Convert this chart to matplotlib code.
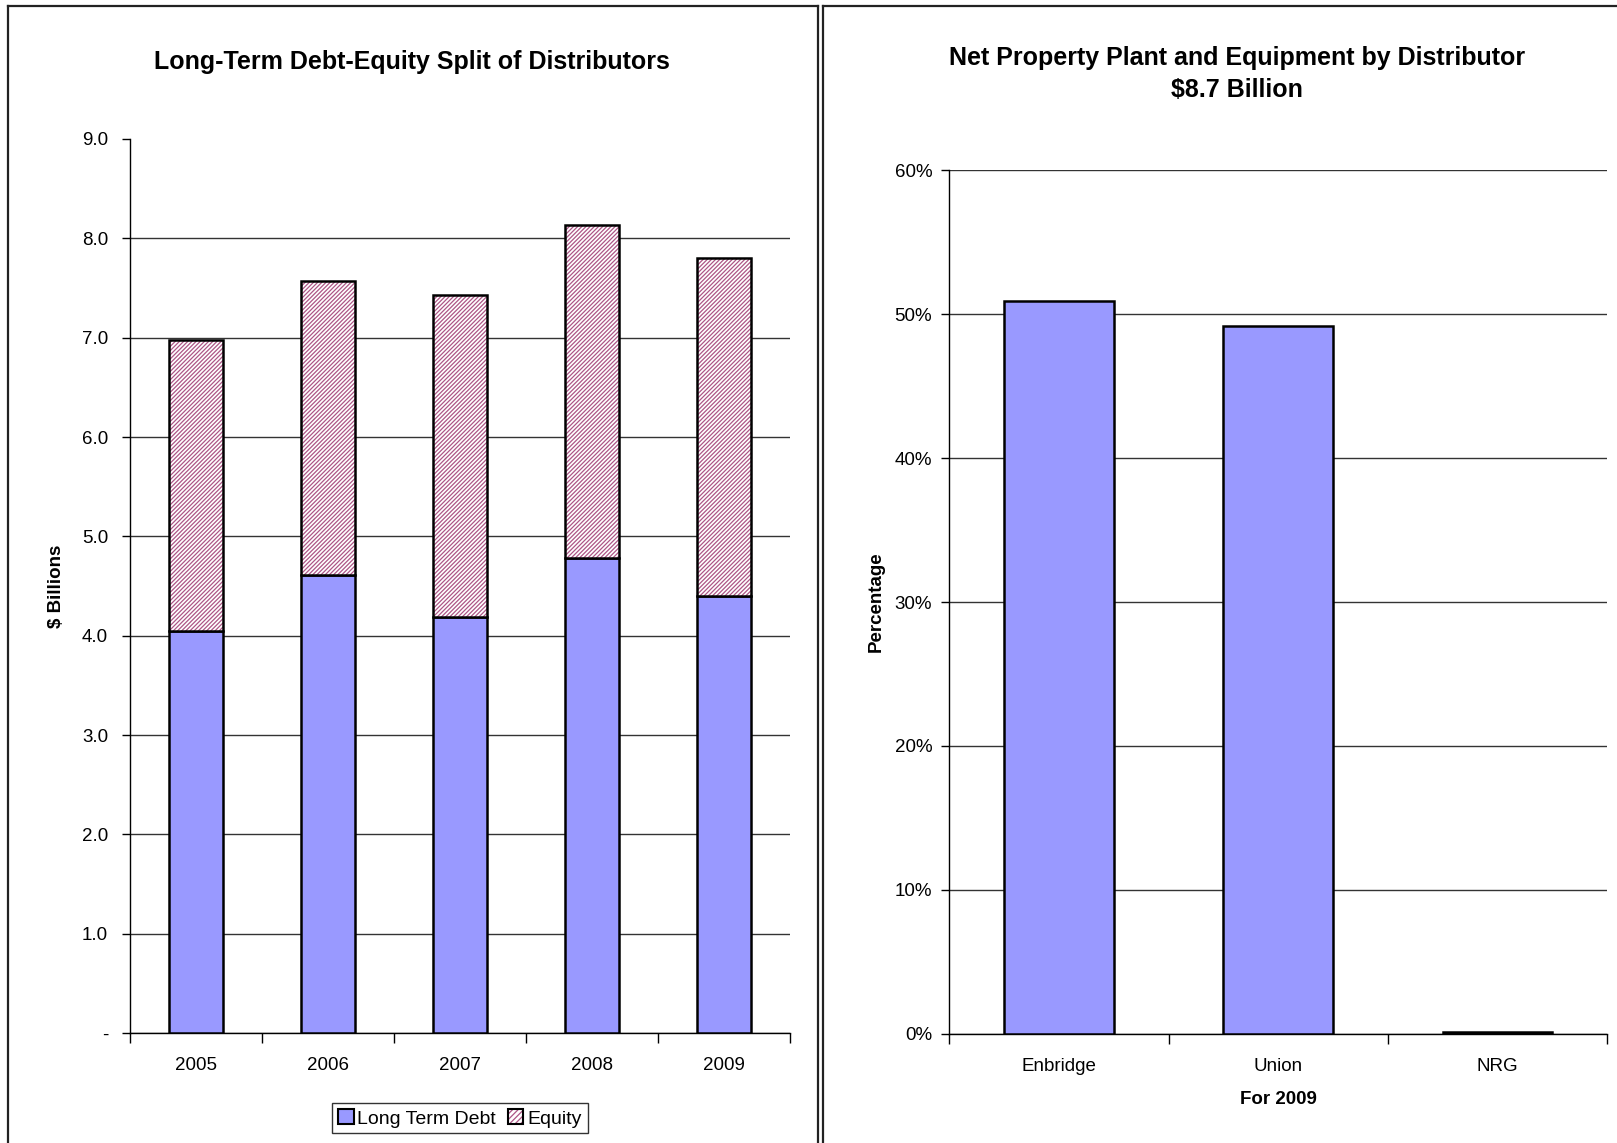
import matplotlib
matplotlib.use('Agg')
import matplotlib.pyplot as plt
import matplotlib.patches as mpatches
from matplotlib.lines import Line2D
import numpy as np

plt.rcParams['font.family'] = ['Liberation Sans', 'DejaVu Sans']
plt.rcParams['hatch.linewidth'] = 0.9

# left chart data ($ billions)
years = ['2005', '2006', '2007', '2008', '2009']
debt = [4.05, 4.61, 4.19, 4.78, 4.40]
equity = [2.93, 2.96, 3.24, 3.35, 3.40]
debt_ticks = [0, 1, 2, 3, 4, 5, 6, 7, 8, 9]

# right chart data (share of net PP&E, 2009)
distributors = ['Enbridge', 'Union', 'NRG']
share = [50.9, 49.2, 0.15]
pct_ticks = [0, 10, 20, 30, 40, 50, 60]

blue = '#9999FF'
hatch_col = '#AD5586'

fig = plt.figure(figsize=(16.17, 11.43), dpi=100)

# panel borders
for xs, ys in [([0.005, 0.005], [0, 0.995]), ([0.005, 0.506], [0.995, 0.995]),
               ([0.506, 0.506], [0, 0.995]), ([0.509, 0.509], [0, 0.995]),
               ([0.509, 1.0], [0.995, 0.995])]:
    fig.add_artist(Line2D(xs, ys, color='#222222', lw=1.6, transform=fig.transFigure))


def style_axes(ax, n, ypad):
    for s in ['top', 'right']:
        ax.spines[s].set_visible(False)
    ax.spines['left'].set_linewidth(1.0)
    ax.spines['bottom'].set_linewidth(1.0)
    ax.set_xlim(-0.5, n - 0.5)
    ax.set_xticks(range(n))
    ax.set_xticks(np.arange(-0.5, n), minor=True)
    ax.tick_params(axis='x', which='major', length=0, pad=17, labelsize=13.5)
    ax.tick_params(axis='x', which='minor', length=7, direction='out', width=1)
    ax.tick_params(axis='y', length=6, direction='out', width=1, labelsize=13.5, pad=ypad)
    ax.yaxis.grid(True, color='#333333', lw=1.0)
    ax.set_axisbelow(True)


# ---- left: debt/equity split
ax1 = fig.add_axes([0.0804, 0.0962, 0.408, 0.7822])
x = np.arange(len(years))
ax1.bar(x, debt, width=0.41, color=blue, edgecolor='black', lw=1.8, zorder=3)
ax1.bar(x, equity, bottom=debt, width=0.41, color='white', edgecolor=hatch_col,
        hatch='////////', lw=0, zorder=3)
ax1.bar(x, equity, bottom=debt, width=0.41, fill=False, edgecolor='black', lw=1.8, zorder=4)
style_axes(ax1, len(years), 9.8)
ax1.set_ylim(0, 9)
ax1.set_yticks(debt_ticks)
ax1.set_yticklabels(['-'] + ['%.1f' % t for t in debt_ticks[1:]])
ax1.yaxis.get_gridlines()[-1].set_visible(False)
ax1.set_xticklabels(years)
ax1.set_ylabel(r'\$ Billions', fontsize=13.5, fontweight='bold')
ax1.yaxis.set_label_coords(-0.099, 0.5)

# legend: hatch swatch with a black outline on top
h_debt = mpatches.Patch(facecolor=blue, edgecolor='black', lw=1.5)
h_eq_fill = mpatches.Patch(facecolor='white', edgecolor=hatch_col, hatch='//////', lw=0)
h_eq_box = mpatches.Patch(fill=False, edgecolor='black', lw=1.5)
leg = ax1.legend([h_debt, (h_eq_fill, h_eq_box)], ['Long Term Debt', 'Equity'], ncol=2,
                 loc='center', bbox_to_anchor=(0.5, -0.0955), fontsize=14,
                 frameon=True, fancybox=False, edgecolor='black',
                 handlelength=0.8, handleheight=0.8, handletextpad=0.2,
                 columnspacing=0.6, borderpad=0.3)
leg.get_frame().set_linewidth(1.0)

# ---- right: net PP&E by distributor
ax2 = fig.add_axes([0.587, 0.0954, 0.407, 0.7558])
x2 = np.arange(len(distributors))
ax2.bar(x2, share, width=0.5, color=blue, edgecolor='black', lw=1.8, zorder=3)
style_axes(ax2, len(distributors), 6.2)
ax2.set_ylim(0, 60)
ax2.set_yticks(pct_ticks)
ax2.set_yticklabels(['%d%%' % t for t in pct_ticks])
ax2.set_xticklabels(distributors)
ax2.set_ylabel('Percentage', fontsize=13.5, fontweight='bold')
ax2.yaxis.set_label_coords(-0.098, 0.5)
ax2.set_xlabel('For 2009', fontsize=13.5, fontweight='bold', labelpad=11.5)

# titles centred on each panel
fig.text(412 / 1617, 1 - 62 / 1143, 'Long-Term Debt-Equity Split of Distributors',
         fontsize=18, fontweight='bold', ha='center', va='center')
fig.text(1237 / 1617, 1 - 74 / 1143,
         'Net Property Plant and Equipment by Distributor\n\\$8.7 Billion',
         fontsize=18, fontweight='bold', ha='center', va='center', linespacing=1.45)

fig.savefig('out.png', dpi=100)
